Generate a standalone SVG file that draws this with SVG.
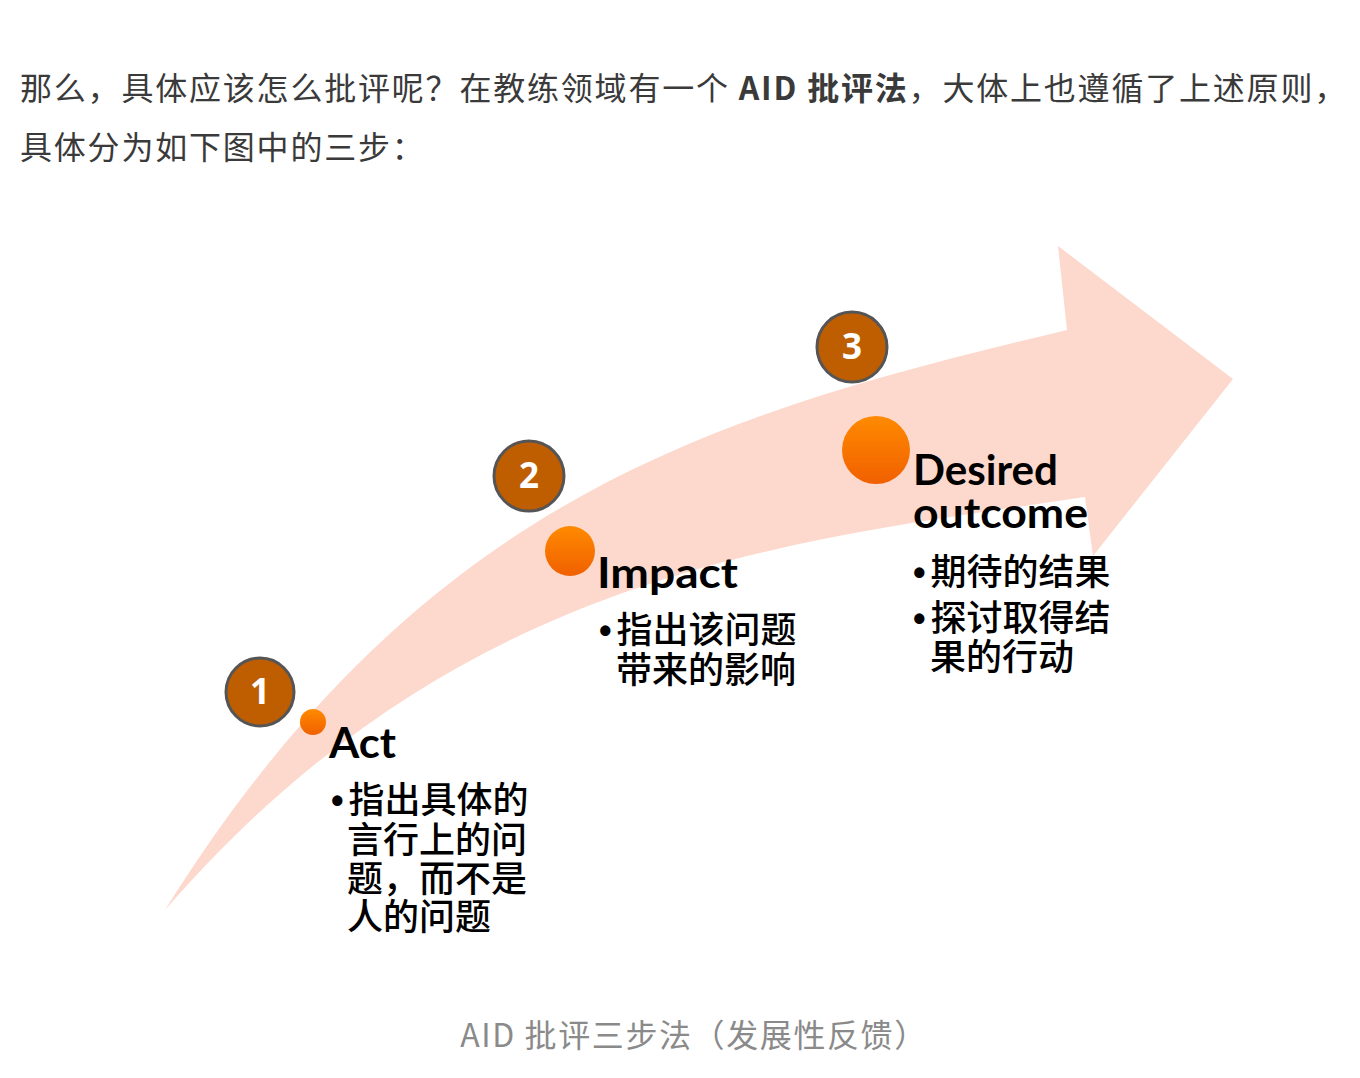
<svg xmlns="http://www.w3.org/2000/svg" width="1360" height="1078" viewBox="0 0 1360 1078">
<style>
.hdr{font-family:"Noto Sans CJK SC","Liberation Sans",sans-serif;font-size:32px;fill:#3a3a3a;letter-spacing:1.8px}
.cap{font-family:"Noto Sans CJK SC","Liberation Sans",sans-serif;font-size:32px;fill:#8a8a8a;letter-spacing:1.6px}
.num{font-family:"Open Sans","DejaVu Sans",sans-serif;font-size:35px;font-weight:700;fill:#fff;text-anchor:middle}
.ttl{font-family:"Lato","DejaVu Sans",sans-serif;font-size:42px;font-weight:700;fill:#000}
.bul{font-family:"Noto Sans CJK SC",sans-serif;font-size:36px;font-weight:500;fill:#000}
.b{font-family:"Liberation Sans",sans-serif;font-weight:700}
.badge{fill:#BF5E00;stroke:#555;stroke-width:3}
.dot{fill:url(#og)}
</style>
<defs>
<linearGradient id="og" x1="0" y1="0" x2="0" y2="1">
<stop offset="0" stop-color="#FF8A00"/>
<stop offset="1" stop-color="#F06000"/>
</linearGradient>
</defs>
<rect width="1360" height="1078" fill="#fff"/>
<text class="hdr" x="20" y="100">那么，具体应该怎么批评呢？在教练领域有一个 <tspan font-weight="700">AID 批评法</tspan>，大体上也遵循了上述原则，</text>
<text class="hdr" x="20" y="159">具体分为如下图中的三步：</text>
<g id="connectors">
<path id="arrow" d="M165,910 C425,494 717,414 1067,330 L1058,246 L1233,379 L1093,556 L1085,497 C785,542 460,570 165,910 Z" fill="#FDD8CC"/>
</g>
<g id="step1">
<circle class="badge" cx="260" cy="692" r="34"/>
<text class="num" x="260" y="704">1</text>
<circle class="dot" cx="313" cy="722" r="13"/>
<text class="ttl" x="329" y="758" textLength="67" lengthAdjust="spacingAndGlyphs">Act</text>
<text class="bul"><tspan x="331" y="813" class="b">•</tspan><tspan dx="5">指出具体的</tspan><tspan x="347" y="853">言行上的问</tspan><tspan x="347" y="892">题，而不是</tspan><tspan x="347" y="930">人的问题</tspan></text>
</g>
<g id="step2">
<circle class="badge" cx="529" cy="476" r="35"/>
<text class="num" x="529" y="488">2</text>
<circle class="dot" cx="570" cy="551" r="25"/>
<text class="ttl" x="597" y="588" textLength="141" lengthAdjust="spacingAndGlyphs">Impact</text>
<text class="bul"><tspan x="599" y="643" class="b">•</tspan><tspan dx="5">指出该问题</tspan><tspan x="616" y="683">带来的影响</tspan></text>
</g>
<g id="step3">
<circle class="badge" cx="852" cy="347" r="35"/>
<text class="num" x="852" y="359">3</text>
<circle class="dot" cx="876" cy="450" r="34"/>
<text class="ttl" x="913" y="485" textLength="145" lengthAdjust="spacingAndGlyphs">Desired</text>
<text class="ttl" x="913" y="528" textLength="175" lengthAdjust="spacingAndGlyphs">outcome</text>
<text class="bul"><tspan x="913" y="585" class="b">•</tspan><tspan dx="5">期待的结果</tspan><tspan x="913" y="631" class="b">•</tspan><tspan dx="5">探讨取得结</tspan><tspan x="930" y="670">果的行动</tspan></text>
</g>
<text class="cap" x="694" y="1047" text-anchor="middle">AID 批评三步法（发展性反馈）</text>
</svg>
